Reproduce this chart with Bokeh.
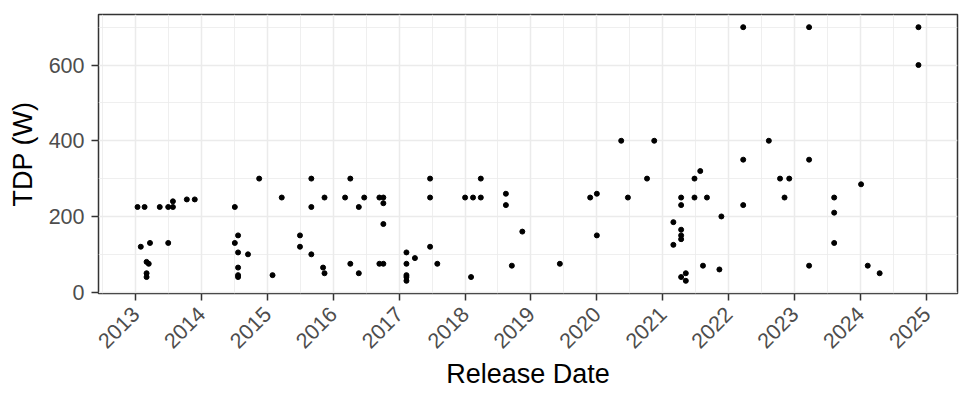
import math
import pandas as pd
from bokeh.plotting import figure
from bokeh.models import Range1d, FixedTicker, DatetimeTickFormatter, ColumnDataSource
from bokeh.embed import file_html
from bokeh.resources import INLINE

# ---- data ----
release_dates = [
    "2013-01-12", "2013-02-20", "2013-05-15", "2013-07-01", "2013-07-27", "2013-07-27",
    "2013-10-12", "2013-11-25", "2013-01-30", "2013-03-22", "2013-07-01", "2013-03-03",
    "2013-03-15", "2013-03-03", "2013-03-03",
    "2014-07-05", "2014-07-23", "2014-07-05", "2014-07-23", "2014-09-16", "2014-07-23",
    "2014-07-23", "2014-07-23", "2014-11-17",
    "2015-01-30", "2015-03-22", "2015-07-01", "2015-07-01", "2015-09-02", "2015-09-02",
    "2015-09-02", "2015-11-14", "2015-11-14", "2015-11-06",
    "2016-03-07", "2016-04-05", "2016-04-05", "2016-05-22", "2016-05-22", "2016-06-21",
    "2016-09-13", "2016-09-13", "2016-10-05", "2016-10-05", "2016-10-05", "2016-10-05",
    "2017-02-10", "2017-02-10", "2017-02-10", "2017-02-10", "2017-02-10", "2017-03-29",
    "2017-06-21", "2017-06-21", "2017-06-21", "2017-07-31",
    "2018-01-01", "2018-02-03", "2018-02-14", "2018-03-29", "2018-03-29", "2018-08-15",
    "2018-08-15", "2018-09-17", "2018-11-14",
    "2019-06-10", "2019-11-25",
    "2020-01-01", "2020-01-01", "2020-05-15", "2020-06-21", "2020-10-05", "2020-11-14",
    "2021-02-28", "2021-02-28", "2021-04-12", "2021-04-12", "2021-04-12", "2021-04-12",
    "2021-04-12", "2021-04-12", "2021-05-08", "2021-05-08", "2021-06-25", "2021-06-25",
    "2021-07-27", "2021-08-11", "2021-09-02", "2021-11-10", "2021-11-21",
    "2022-03-22", "2022-03-22", "2022-03-22", "2022-08-11", "2022-10-12", "2022-11-06",
    "2022-12-02",
    "2023-03-22", "2023-03-22", "2023-03-22", "2023-08-08", "2023-08-08", "2023-08-08",
    "2024-01-04", "2024-02-10", "2024-04-16", "2024-11-17", "2024-11-17",
]
tdp_watts = [
    225, 225, 225, 225, 225, 240,
    245, 245, 120, 130, 130, 80,
    75, 50, 40,
    225, 150, 130, 105, 100, 65,
    45, 40, 300,
    45, 250, 150, 120, 300, 225,
    100, 250, 50, 65,
    250, 300, 75, 225, 50, 250,
    250, 75, 250, 235, 180, 75,
    105, 75, 45, 40, 30, 90,
    300, 250, 120, 75,
    250, 40, 250, 250, 300, 260,
    230, 70, 160,
    75, 250,
    260, 150, 400, 250, 300, 400,
    185, 125, 250, 230, 165, 150,
    140, 40, 50, 30, 250, 300,
    320, 70, 250, 60, 200,
    700, 350, 230, 400, 300, 250,
    300,
    700, 350, 70, 250, 210, 130,
    285, 70, 50, 700, 600,
]
year_ticks = [str(y) for y in range(2013, 2026)]
y_ticks = [0, 200, 400, 600]
y_minor_ticks = [100, 300, 500, 700]

# ---- build ----
dates = pd.to_datetime(pd.Series(release_dates))
src = ColumnDataSource(dict(x=dates, y=tdp_watts))

def ms(ts):
    return pd.Timestamp(ts).value / 1e6

xmin, xmax = ms(dates.min()), ms(dates.max())
xpad = (xmax - xmin) * 0.05
ymin, ymax = min(tdp_watts), max(tdp_watts)
ypad = (ymax - ymin) * 0.05

major_x = [ms(f"{y}-01-01") for y in year_ticks]
minor_x = [ms(f"{int(y) - 1}-07-02") for y in year_ticks] + [ms(f"{year_ticks[-1]}-07-02")]

p = figure(width=972, height=405, output_backend="svg", toolbar_location=None,
           x_axis_type="datetime",
           x_range=Range1d(xmin - xpad, xmax + xpad),
           y_range=Range1d(ymin - ypad, ymax + ypad),
           min_border_left=98, min_border_right=15, min_border_top=14, min_border_bottom=112)

p.scatter("x", "y", source=src, size=5, color="black")

FONT = "Liberation Sans"
p.background_fill_color = "white"
p.border_fill_color = "white"
p.outline_line_color = "#333333"
p.outline_line_width = 1.5

p.xaxis.ticker = FixedTicker(ticks=major_x, minor_ticks=minor_x)
p.xaxis.formatter = DatetimeTickFormatter(years="%Y", months="%Y", days="%Y")
p.yaxis.ticker = FixedTicker(ticks=y_ticks, minor_ticks=y_minor_ticks)

for ax in (p.xaxis, p.yaxis):
    ax.axis_line_color = None
    ax.major_tick_line_color = "#333333"
    ax.major_tick_line_width = 1.5
    ax.major_tick_out = 7
    ax.major_tick_in = 0
    ax.minor_tick_line_color = None
    ax.major_label_text_font = FONT
    ax.major_label_text_font_size = "21.5px"
    ax.major_label_text_color = "#4d4d4d"
    ax.axis_label_text_font = FONT
    ax.axis_label_text_font_size = "27px"
    ax.axis_label_text_font_style = "normal"
    ax.axis_label_text_color = "black"

p.xaxis.axis_label = "Release Date"
p.yaxis.axis_label = "TDP (W)"
p.xaxis.major_label_orientation = math.pi / 4
p.xaxis.major_label_standoff = 10
p.yaxis.major_label_standoff = 7
p.yaxis.axis_label_standoff = 8
p.xaxis.axis_label_standoff = 1

for g in (p.xgrid, p.ygrid):
    g.grid_line_color = "#ebebeb"
    g.grid_line_width = 1.5
    g.minor_grid_line_color = "#ebebeb"
    g.minor_grid_line_width = 0.8

open("out.html", "w").write(file_html(p, INLINE))
